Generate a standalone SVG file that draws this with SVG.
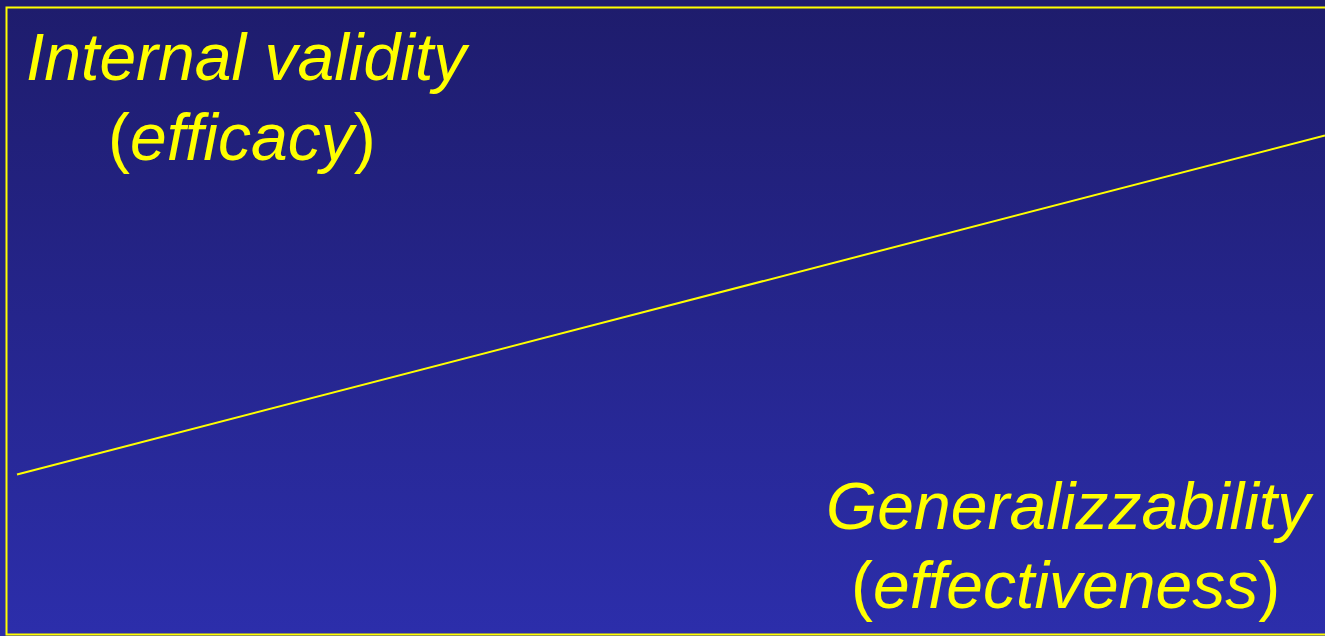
<svg xmlns="http://www.w3.org/2000/svg" width="1325" height="636" viewBox="0 0 1325 636">
<defs>
<linearGradient id="bg" x1="0" y1="0" x2="0" y2="1">
<stop offset="0" stop-color="#1e1c6c"/>
<stop offset="1" stop-color="#2c2eab"/>
</linearGradient>
</defs>
<style>
.t{font-family:"Liberation Sans",Arial,sans-serif;font-size:66px;fill:#ffff00}
.i{font-style:italic}
.ln{stroke:#ffff00;fill:none}
</style>
<rect width="1325" height="636" fill="url(#bg)"/>
<g id="frame"><path class="ln" stroke-width="2" d="M1325 7.5H6.5V634.5H1325"/></g>
<g id="connectors"><line class="ln" stroke-width="2" x1="17" y1="474.5" x2="1325" y2="135.5"/></g>
<g id="internal">
<text class="t i" x="26" y="80">Internal validity</text>
<text class="t" x="108" y="160">(<tspan class="i">efficacy</tspan>)</text>
</g>
<g id="general">
<text class="t i" x="826" y="529">Generalizzability</text>
<text class="t" x="851" y="608">(<tspan class="i">effectiveness</tspan>)</text>
</g>
</svg>
